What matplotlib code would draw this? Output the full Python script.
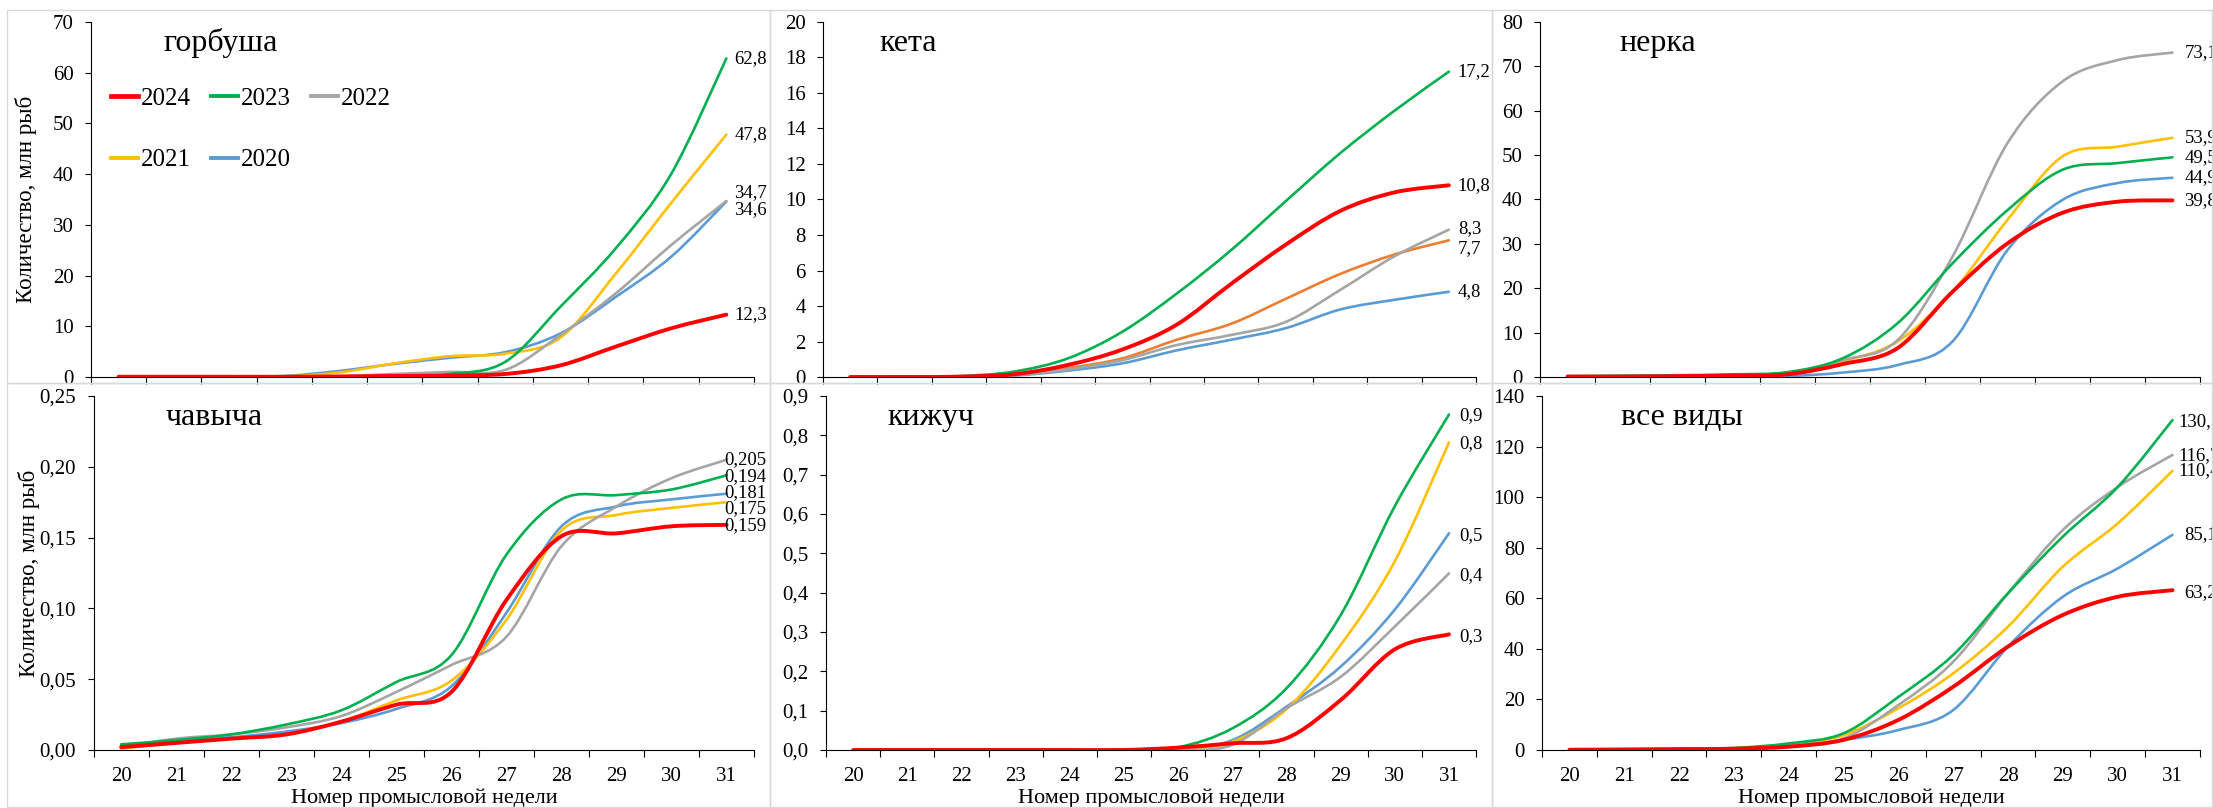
import numpy as np
import matplotlib
matplotlib.use("Agg")
import matplotlib.pyplot as plt
from matplotlib.path import Path
from matplotlib.patches import PathPatch, Rectangle
from matplotlib.lines import Line2D
from matplotlib.ticker import MultipleLocator, FuncFormatter

plt.rcParams['font.family'] = ['Liberation Serif', 'DejaVu Serif']

weeks = list(range(20, 32))
years = ["2024", "2023", "2022", "2021", "2020"]

# ---- горбуша ----
gorb_2024 = [0.05, 0.05, 0.05, 0.05, 0.1, 0.2, 0.3, 0.6, 2.3, 6.0, 9.6, 12.3]
gorb_2023 = [0.0, 0.0, 0.0, 0.0, 0.1, 0.2, 0.6, 3.0, 13.9, 25.4, 40.0, 62.8]
gorb_2022 = [0.0, 0.0, 0.0, 0.05, 0.2, 0.6, 1.0, 1.4, 8.3, 16.5, 26.0, 34.7]
gorb_2021 = [0.0, 0.0, 0.0, 0.1, 0.9, 2.7, 4.1, 4.6, 7.8, 20.4, 34.3, 47.8]
gorb_2020 = [0.05, 0.05, 0.05, 0.2, 1.2, 2.6, 3.8, 4.9, 8.6, 15.8, 23.7, 34.6]
gorb_labels = ["12,3", "62,8", "34,7", "47,8", "34,6"]

# ---- кета ----
keta_2024 = [0.0, 0.0, 0.02, 0.15, 0.68, 1.55, 2.95, 5.25, 7.45, 9.35, 10.4, 10.8]
keta_2023 = [0.0, 0.0, 0.05, 0.3, 1.05, 2.55, 4.7, 7.15, 9.9, 12.6, 15.0, 17.2]
keta_2022 = [0.0, 0.0, 0.02, 0.1, 0.43, 0.95, 1.8, 2.37, 3.1, 4.9, 6.8, 8.3]
keta_2021 = [0.0, 0.0, 0.02, 0.1, 0.5, 1.05, 2.1, 3.0, 4.4, 5.8, 6.9, 7.7]
keta_2020 = [0.0, 0.0, 0.02, 0.08, 0.36, 0.77, 1.5, 2.1, 2.75, 3.8, 4.35, 4.8]
keta_labels = ["10,8", "17,2", "8,3", "7,7", "4,8"]

# ---- нерка ----
nerka_2024 = [0.1, 0.1, 0.2, 0.3, 0.6, 2.9, 6.5, 19.2, 30.1, 37.0, 39.5, 39.8]
nerka_2023 = [0.2, 0.3, 0.4, 0.6, 1.1, 4.2, 12.1, 25.6, 37.6, 46.7, 48.2, 49.5]
nerka_2022 = [0.1, 0.2, 0.3, 0.4, 0.9, 3.8, 8.3, 27.1, 52.7, 66.6, 71.4, 73.1]
nerka_2021 = [0.1, 0.1, 0.2, 0.3, 0.75, 3.5, 8.0, 19.2, 35.4, 49.7, 51.9, 53.9]
nerka_2020 = [0.0, 0.0, 0.1, 0.1, 0.2, 1.0, 2.7, 8.0, 28.6, 39.9, 43.7, 44.9]
nerka_labels = ["39,8", "49,5", "73,1", "53,9", "44,9"]

# ---- чавыча ----
chav_2024 = [0.002, 0.005, 0.008, 0.011, 0.020, 0.032, 0.041, 0.106, 0.151, 0.153, 0.158, 0.159]
chav_2023 = [0.004, 0.007, 0.011, 0.018, 0.028, 0.048, 0.067, 0.138, 0.177, 0.180, 0.184, 0.194]
chav_2022 = [0.002, 0.008, 0.011, 0.016, 0.024, 0.041, 0.060, 0.080, 0.144, 0.172, 0.192, 0.205]
chav_2021 = [0.001, 0.005, 0.008, 0.011, 0.020, 0.035, 0.049, 0.092, 0.155, 0.166, 0.171, 0.175]
chav_2020 = [0.003, 0.007, 0.009, 0.013, 0.019, 0.029, 0.045, 0.097, 0.158, 0.172, 0.177, 0.181]
chav_labels = ["0,159", "0,194", "0,205", "0,175", "0,181"]

# ---- кижуч ----
kizh_2024 = [0, 0, 0, 0, 0, 0, 0.006, 0.017, 0.030, 0.127, 0.256, 0.294]
kizh_2023 = [0, 0, 0, 0, 0, 0, 0.007, 0.055, 0.157, 0.343, 0.620, 0.853]
kizh_2022 = [0, 0, 0, 0, 0, 0, 0.0, 0.013, 0.106, 0.186, 0.314, 0.449]
kizh_2021 = [0, 0, 0, 0, 0, 0, 0.002, 0.021, 0.104, 0.267, 0.480, 0.782]
kizh_2020 = [0, 0, 0, 0, 0, 0, 0.002, 0.025, 0.110, 0.212, 0.357, 0.551]
kizh_labels = ["0,3", "0,9", "0,4", "0,8", "0,5"]

# ---- все виды ----
all_2024 = [0.1, 0.2, 0.3, 0.5, 1.3, 4.0, 11.9, 25.0, 40.9, 53.4, 60.6, 63.2]
all_2023 = [0.2, 0.3, 0.5, 0.8, 2.6, 6.6, 21.0, 37.6, 62.0, 84.4, 104.0, 130.5]
all_2022 = [0.1, 0.2, 0.4, 0.6, 2.0, 4.6, 17.8, 34.9, 62.0, 87.0, 104.0, 116.7]
all_2021 = [0.1, 0.2, 0.4, 0.6, 2.0, 5.9, 16.5, 30.3, 48.8, 72.5, 89.6, 110.4]
all_2020 = [0.1, 0.1, 0.2, 0.4, 1.6, 4.0, 7.9, 15.8, 40.9, 60.6, 71.8, 85.1]
all_labels = ["63,2", "130,5", "116,7", "110,4", "85,1"]

colors = {"2024": "#FF0000", "2023": "#00B050", "2022": "#A5A5A5",
          "2021": "#FFC000", "2020": "#5B9BD5"}
widths = {"2024": 2.8, "2023": 1.9, "2022": 1.9, "2021": 1.9, "2020": 1.9}


def excel_smooth(x, y):
    # bezier through the points, like Excel's "smoothed line"
    pts = np.column_stack([x, y]).astype(float)
    n = len(pts)
    verts = [pts[0]]
    codes = [Path.MOVETO]
    for i in range(n - 1):
        p0 = pts[i - 1] if i > 0 else pts[i]
        p1, p2 = pts[i], pts[i + 1]
        p3 = pts[i + 2] if i + 2 < n else pts[i + 1]
        verts += [p1 + (p2 - p0) / 6, p2 - (p3 - p1) / 6, p2]
        codes += [Path.CURVE4] * 3
    return Path(verts, codes)


def comma_fmt(dec):
    return FuncFormatter(lambda v, pos: f"{v:.{dec}f}".replace(".", ","))


# name, series, labels, ymax, ystep, decimals, axes rect, title x, label offsets, special colors
panels = [
    ("горбуша", [gorb_2024, gorb_2023, gorb_2022, gorb_2021, gorb_2020], gorb_labels,
     70, 10, 0, [0.0411, 0.5334, 0.2996, 0.4394], 0.110,
     [(8, 0), (8, 0), (8, 8), (8, 0), (8, -8)], {}),
    ("кета", [keta_2024, keta_2023, keta_2022, keta_2021, keta_2020], keta_labels,
     20, 2, 0, [0.3719, 0.5334, 0.2951, 0.4394], 0.087,
     [(9, 0), (9, 0), (9, 1), (9, -8), (9, 0)], {"2021": "#ED7D31"}),
    ("нерка", [nerka_2024, nerka_2023, nerka_2022, nerka_2021, nerka_2020], nerka_labels,
     80, 10, 0, [0.6959, 0.5334, 0.2982, 0.4394], 0.121,
     [(12, 0), (12, 0), (12, 0), (12, 0), (12, 0)], {}),
    ("чавыча", [chav_2024, chav_2023, chav_2022, chav_2021, chav_2020], chav_labels,
     0.25, 0.05, 2, [0.0423, 0.0718, 0.2985, 0.4381], 0.109,
     [(-2, -1), (-2, -1), (-2, 0), (-2, -6), (-2, 1)], {}),
    ("кижуч", [kizh_2024, kizh_2023, kizh_2022, kizh_2021, kizh_2020], kizh_labels,
     0.9, 0.1, 1, [0.3733, 0.0718, 0.2937, 0.4381], 0.094,
     [(10, -2), (10, -1), (10, -2), (10, -1), (10, -2)], {}),
    ("все виды", [all_2024, all_2023, all_2022, all_2021, all_2020], all_labels,
     140, 20, 0, [0.6968, 0.0718, 0.2973, 0.4381], 0.120,
     [(12, -2), (6, -2), (6, -1), (6, 0), (12, 0)], {}),
]

fig = plt.figure(figsize=(22.13, 8.08), dpi=100)

# light grey boxes around every chart
for x0, x1 in [(7, 770), (770, 1492), (1492, 2212)]:
    for y0, y1 in [(10, 383), (383, 807)]:
        fig.add_artist(Rectangle((x0 / 2213, 1 - y1 / 808), (x1 - x0) / 2213, (y1 - y0) / 808,
                                 transform=fig.transFigure, fill=False,
                                 edgecolor="#D9D9D9", lw=1.0))

for idx, (name, series, labels, ymax, ystep, dec, rect, tx, offs, special) in enumerate(panels):
    ax = fig.add_axes(rect)
    bottom_row = idx >= 3
    for k in range(len(years) - 1, -1, -1):
        yr = years[k]
        col = special.get(yr, colors[yr])
        ax.add_patch(PathPatch(excel_smooth(weeks, series[k]), fill=False,
                               edgecolor=col, lw=widths[yr], capstyle="round",
                               joinstyle="round", zorder=3 + (len(years) - k)))
        ax.annotate(labels[k], xy=(weeks[-1], series[k][-1]), xytext=offs[k],
                    textcoords="offset pixels", ha="left", va="center",
                    fontsize=13.5, annotation_clip=False, zorder=10)

    ax.set_xlim(19.5, 31.5)
    ax.set_ylim(0, ymax)
    ax.set_xticks(np.arange(19.5, 32, 1))
    ax.set_xticks(weeks, labels=[str(w) for w in weeks], minor=True)
    ax.tick_params(axis="x", which="major", length=5, width=0.8, direction="out",
                   labelbottom=False)
    ax.tick_params(axis="x", which="minor", length=0, pad=12, labelsize=15,
                   labelbottom=bottom_row)
    ax.yaxis.set_major_locator(MultipleLocator(ystep))
    ax.yaxis.set_major_formatter(comma_fmt(dec))
    ax.tick_params(axis="y", length=4, width=0.8, pad=8.5, labelsize=15)
    for s in ["top", "right"]:
        ax.spines[s].set_visible(False)
    for s in ["left", "bottom"]:
        ax.spines[s].set_linewidth(0.8)
    ax.set_facecolor("none")

    ax.text(tx, 0.94, name, transform=ax.transAxes, fontsize=23, ha="left", va="center")

    if idx % 3 == 0:
        ax.set_ylabel("Количество, млн рыб", fontsize=16.5)
        ax.yaxis.set_label_coords(-0.081, 0.5)
    if bottom_row:
        ax.set_xlabel("Номер промысловой недели", fontsize=16)
        ax.xaxis.set_label_coords(0.5, -0.108)

    if idx == 0:
        handles = {yr: Line2D([], [], color=colors[yr], lw=3.4 if yr == "2024" else 2.8)
                   for yr in years}
        order = ["2024", "2021", "2023", "2020", "2022"]
        ax.legend([handles[y] for y in order], order, loc="upper left",
                  bbox_to_anchor=(0.03, 0.815), ncol=3, frameon=False, fontsize=18,
                  handlelength=1.1, handletextpad=0.1, columnspacing=0.8,
                  labelspacing=1.55, borderpad=0, borderaxespad=0)

fig.savefig("out.png", dpi=100)
